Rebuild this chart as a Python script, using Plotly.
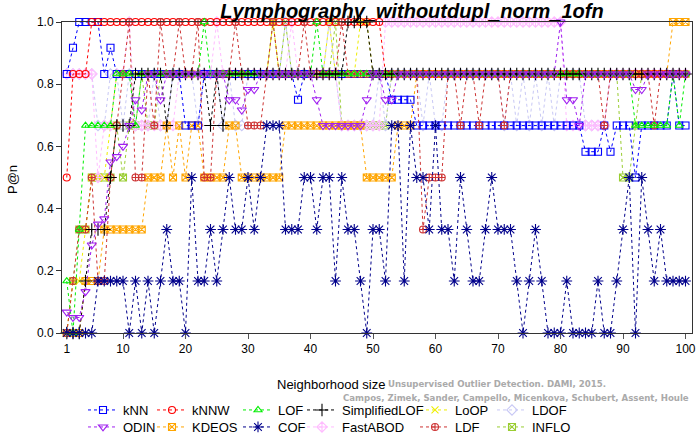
import plotly.graph_objects as go

n = list(range(1, 101))

kNN = [0.833, 0.917, 1, 1, 1, 1, 0.833, 0.917, 0.833, 0.833,
       0.833, 0.833, 0.833, 0.833, 0.833, 0.833, 0.833, 0.833, 0.833, 0.667,
       0.667, 0.667, 0.833, 0.833, 0.833, 0.833, 0.833, 0.833, 0.833, 0.833,
       0.833, 0.833, 0.833, 0.833, 0.833, 0.833, 0.833, 0.75, 0.833, 0.833,
       0.833, 0.833, 0.833, 0.833, 0.833, 0.833, 0.833, 0.833, 0.833, 0.833,
       0.833, 0.833, 0.75, 0.75, 0.75, 0.75, 0.667, 0.667, 0.667, 0.667,
       0.667, 0.667, 0.667, 0.667, 0.667, 0.667, 0.667, 0.667, 0.667, 0.667,
       0.667, 0.667, 0.667, 0.667, 0.667, 0.667, 0.667, 0.667, 0.667, 0.667,
       0.667, 0.667, 0.667, 0.583, 0.583, 0.583, 0.667, 0.583, 0.667, 0.667,
       0.667, 0.5, 0.667, 0.667, 0.667, 0.667, 0.667, 0.833, 0.667, 0.667]

ODIN = [0.067, 0.05, 0.05, 0.133, 0.283, 0.35, 0.367, 0.55, 0.567, 0.6,
        0.667, 0.75, 0.717, 0.833, 0.833, 0.75, 0.833, 0.833, 0.833, 0.833,
        0.833, 0.833, 0.833, 0.833, 0.833, 0.833, 0.75, 0.75, 0.717, 0.783,
        0.783, 0.833, 0.833, 0.833, 0.833, 0.833, 0.833, 0.833, 0.833, 0.833,
        0.75, 0.667, 0.667, 0.667, 0.667, 0.667, 0.667, 0.667, 0.75, 0.833,
        0.833, 0.75, 0.75, 0.833, 0.833, 0.833, 0.833, 0.833, 0.833, 0.833,
        0.833, 0.833, 0.833, 0.833, 0.833, 0.833, 0.833, 0.833, 0.833, 0.833,
        0.833, 0.833, 0.833, 0.833, 0.833, 0.833, 0.833, 0.833, 0.833, 1,
        0.75, 0.75, 0.667, 0.833, 0.833, 0.833, 0.833, 0.833, 0.833, 0.833,
        0.833, 0.783, 0.783, 0.833, 0.833, 0.833, 0.833, 0.833, 0.833, 0.833]

kNNW = [0.5, 0.833, 0.833, 0.833, 1, 1, 1, 1, 1, 1,
        1, 1, 1, 1, 1, 1, 1, 1, 1, 1,
        1, 1, 1, 1, 1, 1, 1, 1, 1, 1,
        1, 1, 1, 1, 1, 1, 1, 1, 1, 1,
        1, 1, 1, 1, 1, 1, 1, 1, 1, 1,
        1, 0.833, 0.833, 0.833, 0.833, 0.833, 0.833, 0.833, 0.833, 0.833,
        0.833, 0.833, 0.833, 0.833, 0.833, 0.833, 0.833, 0.833, 0.833, 0.833,
        0.833, 0.833, 0.833, 0.833, 0.833, 0.833, 0.833, 0.833, 0.833, 0.833,
        0.833, 0.833, 0.833, 0.833, 0.833, 0.833, 0.833, 0.833, 0.833, 0.833,
        0.833, 0.833, 0.833, 0.833, 0.833, 0.833, 0.833, 0.833, 0.833, 0.833]

KDEOS = [0, 0, 0, 0.167, 0.167, 0.167, 0.333, 0.333, 0.333, 0.333,
         0.333, 0.333, 0.333, 0.5, 0.5, 0.5, 0.667, 0.5, 0.667, 0.5,
         0.667, 0.667, 0.5, 0.5, 0.5, 0.5, 0.667, 0.667, 0.5, 0.5,
         0.5, 0.5, 0.5, 0.5, 0.5, 0.667, 0.667, 0.667, 0.667, 0.667,
         0.667, 0.667, 0.667, 0.667, 0.667, 0.667, 0.667, 0.667, 0.5, 0.5,
         0.5, 0.5, 0.5, 0.667, 0.667, 0.667, 0.833, 0.833, 0.833, 0.833,
         0.833, 0.833, 0.833, 0.833, 0.833, 0.833, 0.833, 0.833, 0.833, 0.833,
         0.833, 0.833, 0.833, 0.833, 0.833, 0.833, 0.833, 0.833, 0.833, 0.833,
         0.833, 0.833, 0.833, 0.833, 0.833, 0.833, 0.833, 0.833, 0.833, 0.833,
         0.833, 0.833, 0.833, 0.833, 0.833, 0.833, 0.833, 1, 1, 1]

LOF = [0.167, 0, 0.333, 0.667, 0.667, 0.667, 0.667, 0.667, 0.833, 0.833,
       0.833, 0.667, 0.833, 0.833, 0.833, 0.833, 0.833, 0.833, 0.833, 0.833,
       0.833, 0.833, 1, 0.833, 0.833, 0.833, 0.833, 0.833, 0.833, 0.833,
       0.833, 0.833, 0.833, 0.833, 0.833, 0.833, 0.833, 0.833, 0.833, 0.833,
       1, 0.833, 0.833, 0.833, 0.833, 0.833, 0.833, 0.833, 0.833, 0.833,
       0.833, 0.833, 0.833, 0.833, 0.833, 0.833, 0.833, 0.833, 0.833, 0.833,
       0.833, 0.833, 0.833, 0.833, 0.833, 0.833, 0.833, 0.833, 0.833, 0.833,
       0.833, 0.833, 0.833, 0.833, 0.833, 0.833, 0.833, 0.833, 0.833, 0.833,
       0.833, 0.833, 0.833, 0.833, 0.833, 0.833, 0.833, 0.833, 0.833, 0.833,
       0.833, 0.667, 0.667, 0.667, 0.667, 0.667, 0.667, 0.833, 0.667, 0.833]

COF = [0, 0, 0, 0, 0, 0.167, 0.167, 0.167, 0.167, 0.167,
       0, 0.167, 0, 0.167, 0, 0.167, 0.333, 0.167, 0.167, 0,
       0.5, 0.167, 0.167, 0.333, 0.167, 0.333, 0.5, 0.333, 0.333, 0.5,
       0.333, 0.5, 0.667, 0.667, 0.667, 0.333, 0.333, 0.333, 0.5, 0.5,
       0.333, 0.5, 0.5, 0.167, 0.5, 0.333, 0.333, 0.167, 0, 0.333,
       0.333, 0.167, 0.667, 0.667, 0.167, 0.667, 0.5, 0.5, 0.333, 0.667,
       0.333, 0.333, 0.167, 0.5, 0.333, 0.167, 0.167, 0.333, 0.5, 0.333,
       0.333, 0.333, 0.167, 0, 0.167, 0.333, 0.167, 0, 0, 0,
       0.167, 0, 0, 0, 0, 0.167, 0, 0, 0.167, 0.333,
       0.5, 0, 0.5, 0.333, 0.167, 0.333, 0.167, 0.167, 0.167, 0.167]

SimplifiedLOF = [0, 0, 0, 0.167, 0.333, 0.333, 0.333, 0.5, 0.667, 0.667,
                 0.667, 0.833, 0.833, 0.833, 0.833, 0.833, 0.667, 0.833, 0.833, 0.833,
                 0.833, 0.833, 0.833, 0.667, 0.833, 0.667, 0.833, 0.833, 0.833, 0.833,
                 0.833, 0.833, 0.833, 0.833, 0.833, 0.833, 0.833, 0.833, 0.833, 0.833,
                 0.833, 0.833, 0.833, 0.833, 0.833, 1, 1, 1, 1, 0.833,
                 0.833, 0.833, 0.833, 0.833, 0.833, 0.833, 0.833, 0.833, 0.833, 0.833,
                 0.833, 0.833, 0.833, 0.833, 0.833, 0.833, 0.833, 0.833, 0.833, 0.833,
                 0.833, 0.833, 0.833, 0.833, 0.833, 0.833, 0.833, 0.833, 0.833, 0.833,
                 0.833, 0.833, 0.833, 0.833, 0.833, 0.833, 0.833, 0.833, 0.833, 0.833,
                 0.833, 0.833, 0.833, 0.833, 0.833, 0.833, 0.833, 0.833, 0.833, 0.833]

FastABOD = [0.833, 0.833, 0.833, 0.833, 0.833, 0.5, 0.667, 0.667, 0.833, 0.833,
            1, 0.667, 0.667, 0.667, 0.667, 0.667, 0.667, 0.667, 0.833, 0.833,
            0.833, 0.833, 0.833, 0.833, 1, 0.833, 0.833, 0.833, 0.833, 0.833,
            0.833, 0.833, 0.833, 0.833, 0.833, 0.833, 1, 0.833, 0.833, 0.833,
            0.833, 0.833, 0.833, 0.833, 0.667, 0.667, 0.667, 0.667, 0.667, 0.667,
            0.667, 1, 1, 1, 1, 1, 1, 1, 1, 1,
            1, 1, 1, 1, 1, 1, 1, 1, 1, 1,
            1, 1, 1, 1, 1, 1, 1, 1, 1, 1,
            0.667, 0.667, 0.667, 0.667, 0.667, 0.667, 0.667, 0.833, 0.833, 0.833,
            0.833, 0.833, 0.833, 0.833, 0.833, 0.833, 0.833, 0.833, 0.833, 0.833]

LoOP = [0, 0.167, 0.167, 0.333, 0.5, 0.5, 0.5, 0.667, 0.833, 0.833,
        0.833, 0.833, 0.833, 0.833, 0.833, 0.833, 0.833, 0.833, 0.833, 0.833,
        0.833, 0.833, 0.833, 0.833, 0.833, 0.833, 0.833, 0.833, 0.833, 0.833,
        0.833, 0.833, 0.833, 1, 0.833, 0.833, 0.833, 0.833, 0.833, 0.833,
        0.833, 0.833, 1, 0.833, 0.833, 0.833, 0.833, 1, 1, 0.833,
        0.833, 0.833, 0.833, 0.833, 0.833, 0.833, 0.833, 0.833, 0.833, 0.833,
        0.833, 0.833, 0.833, 0.833, 0.833, 0.833, 0.833, 0.833, 0.833, 0.833,
        0.833, 0.833, 0.833, 0.833, 0.833, 0.833, 0.833, 0.833, 0.833, 0.833,
        0.833, 0.833, 0.833, 0.833, 0.833, 0.833, 0.833, 0.833, 0.833, 0.833,
        0.833, 0.833, 0.833, 0.833, 0.833, 0.833, 0.833, 0.833, 0.833, 0.833]

LDF = [0, 0.167, 0.333, 0.333, 0.5, 0.167, 0.167, 0.5, 0.667, 0.833,
       1, 0.5, 0.5, 0.833, 0.667, 1, 0.833, 0.833, 1, 0.833,
       0.833, 1, 0.5, 0.5, 0.833, 0.833, 0.833, 1, 0.833, 0.667,
       0.667, 0.667, 0.833, 1, 0.833, 0.833, 0.833, 0.833, 1, 0.833,
       0.833, 0.833, 0.833, 0.833, 1, 0.833, 0.833, 0.833, 0.833, 0.833,
       0.833, 0.833, 0.833, 0.833, 0.833, 0.833, 0.833, 0.333, 0.5, 0.5,
       0.5, 0.833, 0.833, 0.667, 0.833, 0.833, 0.667, 0.833, 0.833, 0.833,
       0.667, 0.833, 0.833, 0.833, 0.833, 0.833, 0.833, 0.833, 0.833, 0.833,
       0.833, 0.833, 0.833, 0.833, 0.833, 0.833, 0.667, 0.833, 0.833, 0.833,
       0.833, 0.833, 0.833, 0.833, 0.667, 0.833, 0.833, 0.833, 0.833, 0.833]

LDOF = [0.833, 0.833, 0.833, 0.833, 0.833, 0.667, 0.667, 0.833, 0.833, 0.667,
        0.833, 0.667, 0.667, 0.667, 0.833, 0.667, 0.667, 0.833, 0.833, 0.833,
        0.833, 0.667, 0.833, 0.833, 0.833, 0.667, 0.833, 0.667, 0.667, 0.833,
        0.833, 0.833, 0.833, 0.833, 0.833, 1, 0.833, 0.833, 0.833, 0.833,
        0.833, 0.833, 1, 0.833, 0.667, 0.667, 0.667, 0.667, 0.667, 0.667,
        0.833, 0.667, 0.833, 0.833, 0.833, 0.833, 0.833, 0.667, 0.833, 0.667,
        0.667, 0.833, 0.833, 0.833, 0.833, 0.833, 0.833, 0.833, 0.833, 0.833,
        0.667, 0.833, 0.667, 0.833, 0.667, 0.833, 0.667, 0.833, 0.667, 0.833,
        0.833, 0.833, 0.833, 0.667, 0.667, 0.667, 0.667, 0.833, 0.833, 0.833,
        0.833, 0.833, 0.833, 0.833, 0.833, 0.833, 0.833, 0.833, 0.833, 0.833]

INFLO = [0, 0.167, 0.333, 0.333, 0.5, 0.5, 0.5, 0.5, 0.667, 0.5,
         0.667, 0.667, 0.833, 0.667, 0.667, 0.833, 0.833, 0.833, 0.833, 0.833,
         0.833, 0.833, 0.833, 0.833, 0.833, 0.833, 0.833, 0.833, 0.833, 0.833,
         0.833, 0.833, 0.833, 1, 0.833, 1, 0.833, 0.833, 0.833, 0.833,
         0.833, 0.833, 0.833, 1, 0.667, 0.667, 0.667, 0.667, 0.667, 0.667,
         0.667, 0.667, 0.833, 0.833, 0.833, 0.833, 0.833, 0.833, 0.833, 0.833,
         0.833, 0.833, 0.833, 0.833, 0.833, 0.833, 0.833, 0.833, 0.833, 0.833,
         0.833, 0.833, 0.833, 0.833, 0.833, 0.833, 0.833, 0.833, 0.833, 0.833,
         0.833, 0.833, 0.833, 0.833, 0.833, 0.833, 0.833, 0.833, 0.833, 0.5,
         0.5, 0.667, 0.833, 0.833, 0.833, 0.833, 0.833, 0.833, 0.833, 0.833]

# legend order (column-wise, 6 columns x 2 rows): (name, values, color, symbol, size)
series = [
    ("kNN", kNN, "#0000FF", "square-open", 7),
    ("ODIN", ODIN, "#A020F0", "triangle-down-open", 8),
    ("kNNW", kNNW, "#FF0000", "circle-open", 7),
    ("KDEOS", KDEOS, "#FFA500", "square-x-open", 7),
    ("LOF", LOF, "#00EE00", "triangle-up-open", 7),
    ("COF", COF, "#00008B", "asterisk-open", 9),
    ("SimplifiedLOF", SimplifiedLOF, "#000000", "cross-thin-open", 9),
    ("FastABOD", FastABOD, "#FFBBFF", "diamond-cross-open", 8),
    ("LoOP", LoOP, "#EEEE00", "x-thin-open", 7),
    ("LDF", LDF, "#CD3333", "circle-cross-open", 7),
    ("LDOF", LDOF, "#C8C8F5", "diamond-open", 8),
    ("INFLO", INFLO, "#9ACD32", "square-x-open", 7),
]
draw_order = ["INFLO", "LoOP", "LDOF", "FastABOD", "KDEOS", "kNN", "kNNW",
              "LDF", "LOF", "SimplifiedLOF", "ODIN", "COF"]

cols_px = [83, 152, 238, 302, 415, 492]
rows_px = [395, 412]

legend_font = dict(family="Liberation Sans, Arial, sans-serif", size=13, color="#000000")
legend_of = {}
legend_layout = {}
for i, s in enumerate(series):
    leg = "legend" if i == 0 else f"legend{i + 1}"
    legend_of[s[0]] = leg
    col, row = i // 2, i % 2
    legend_layout[leg] = dict(
        x=(cols_px[col] - 62) / 630, y=(333 - rows_px[row]) / 311,
        xanchor="left", yanchor="top", orientation="v",
        font=legend_font, bgcolor="rgba(0,0,0,0)", itemwidth=30,
    )

by_name = {s[0]: s for s in series}
fig = go.Figure()
for nm in draw_order:
    name, vals, color, sym, size = by_name[nm]
    fig.add_trace(go.Scatter(
        x=n, y=vals, name=name, mode="lines+markers",
        line=dict(color=color, width=1, dash="3px,3px"),
        marker=dict(symbol=sym, size=size, color=color, line=dict(color=color, width=1.1)),
        cliponaxis=False, legend=legend_of[name],
    ))

fig.update_layout(
    width=699, height=434,
    margin=dict(l=62, r=7, t=22, b=101, autoexpand=False),
    plot_bgcolor="white", paper_bgcolor="white",
    font=dict(family="Liberation Sans, Arial, sans-serif", size=12, color="#000000"),
    title=dict(text="<b><i>Lymphography_withoutdupl_norm_1ofn</i></b>",
               x=(412 - 62) / 630, xref="paper", xanchor="center",
               y=1 - 10.5 / 434, yref="container", yanchor="middle", pad=dict(t=0, b=0),
               font=dict(family="Liberation Sans, Arial, sans-serif", size=20, color="#000000")),
    showlegend=True,
    **legend_layout,
)

fig.update_xaxes(
    range=[0.24, 101.04], tickmode="array",
    tickvals=[1, 10, 20, 30, 40, 50, 60, 70, 80, 90, 100],
    ticks="outside", ticklen=5, tickcolor="#555555",
    showline=True, linecolor="#333333", linewidth=1, mirror=True,
    showgrid=False, zeroline=False,
    tickfont=dict(size=12),
)
fig.update_yaxes(
    range=[0, 1], tickmode="array",
    tickvals=[0, 0.2, 0.4, 0.6, 0.8, 1.0], tickformat=".1f",
    ticks="outside", ticklen=5, tickcolor="#333333",
    showline=True, linecolor="#333333", linewidth=1, mirror=True,
    showgrid=False, zeroline=False,
    tickfont=dict(size=12),
)

fig.add_annotation(
    text="P@n", textangle=-90,
    xref="paper", yref="paper", x=(12 - 62) / 630, y=(333 - 180) / 311,
    xanchor="center", yanchor="middle", showarrow=False,
    font=dict(family="Liberation Sans, Arial, sans-serif", size=13, color="#000000"),
)
fig.add_annotation(
    text="Unsupervised Outlier Detection. DAMI, 2015.",
    xref="paper", yref="paper", x=(386 - 62) / 630, y=(333 - 384) / 311,
    xanchor="left", yanchor="middle", showarrow=False,
    font=dict(family="DejaVu Sans", size=8.6, color="#AAAAAA", weight="bold"),
)
fig.add_annotation(
    text="Campos, Zimek, Sander, Campello, Micenkova, Schubert, Assent, Houle",
    xref="paper", yref="paper", x=(691 - 62) / 630, y=(333 - 398) / 311,
    xanchor="right", yanchor="middle", showarrow=False,
    font=dict(family="DejaVu Sans", size=8.6, color="#AAAAAA", weight="bold"),
)
fig.add_annotation(
    text="Neighborhood size",
    xref="paper", yref="paper", x=(331 - 62) / 630, y=(333 - 384) / 311,
    xanchor="center", yanchor="middle", showarrow=False,
    font=dict(family="Liberation Sans, Arial, sans-serif", size=13, color="#000000"),
)

fig.write_html("out.html", config={"displayModeBar": False},
               post_script="document.body.style.margin='0px';")
